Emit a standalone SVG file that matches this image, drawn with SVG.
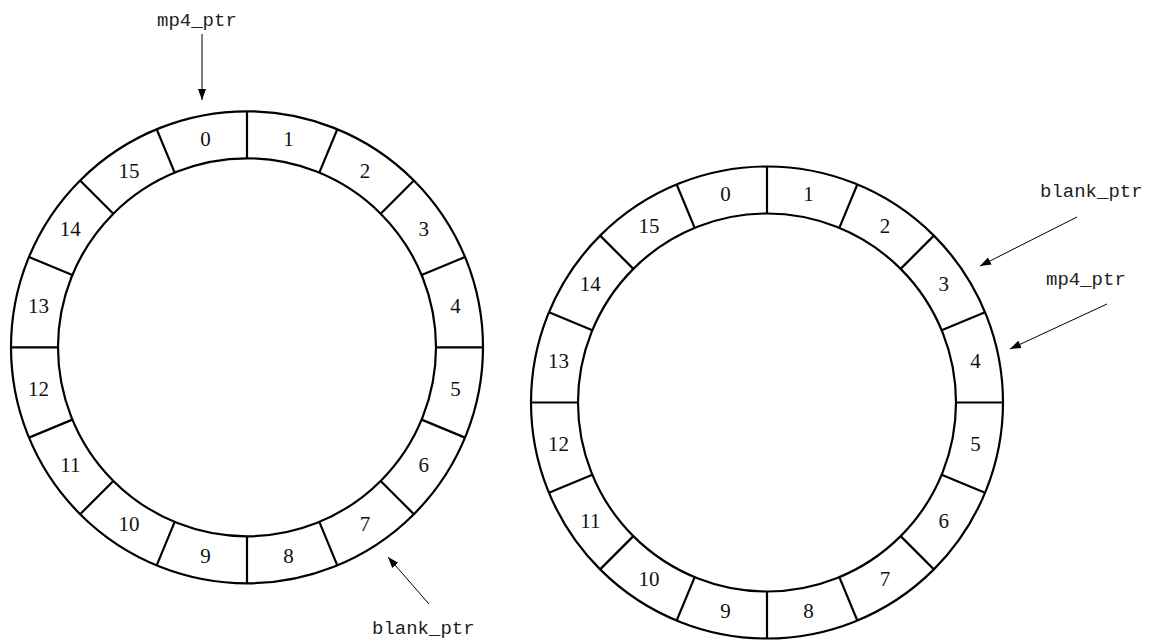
<svg xmlns="http://www.w3.org/2000/svg" xmlns:xlink="http://www.w3.org/1999/xlink" width="1157" height="642" viewBox="0 0 1157 642">
<style>
.ring{fill:none;stroke:#000;stroke-width:2.2}
.div{stroke:#000;stroke-width:2.2}
.lbl{font-family:"Liberation Serif","Times New Roman",serif;font-size:21px;fill:#111;text-anchor:middle}
.ptr{font-family:"Liberation Mono","Courier New",monospace;font-size:19px;fill:#222}
.arr{stroke:#000;stroke-width:1;fill:none;marker-end:url(#ah)}
</style>
<defs>
<marker id="ah" markerUnits="userSpaceOnUse" markerWidth="12" markerHeight="10" refX="11" refY="4" orient="auto">
<path d="M0,0 L11,4 L0,8 Z" fill="#000"/>
</marker>
<line id="d" class="div" x1="0" y1="-189" x2="0" y2="-236"/>
<g id="ringshape">
<circle class="ring" r="236"/>
<circle class="ring" r="189"/>
<use xlink:href="#d"/>
<use xlink:href="#d" transform="rotate(22.5)"/>
<use xlink:href="#d" transform="rotate(45)"/>
<use xlink:href="#d" transform="rotate(67.5)"/>
<use xlink:href="#d" transform="rotate(90)"/>
<use xlink:href="#d" transform="rotate(112.5)"/>
<use xlink:href="#d" transform="rotate(135)"/>
<use xlink:href="#d" transform="rotate(157.5)"/>
<use xlink:href="#d" transform="rotate(180)"/>
<use xlink:href="#d" transform="rotate(202.5)"/>
<use xlink:href="#d" transform="rotate(225)"/>
<use xlink:href="#d" transform="rotate(247.5)"/>
<use xlink:href="#d" transform="rotate(270)"/>
<use xlink:href="#d" transform="rotate(292.5)"/>
<use xlink:href="#d" transform="rotate(315)"/>
<use xlink:href="#d" transform="rotate(337.5)"/>
</g>
<g id="labels">
<text class="lbl" x="-41.5" y="-201.4">0</text>
<text class="lbl" x="41.5" y="-201.4">1</text>
<text class="lbl" x="118.1" y="-169.7">2</text>
<text class="lbl" x="176.7" y="-111.1">3</text>
<text class="lbl" x="208.4" y="-34.5">4</text>
<text class="lbl" x="208.4" y="48.5">5</text>
<text class="lbl" x="176.7" y="125.1">6</text>
<text class="lbl" x="118.1" y="183.7">7</text>
<text class="lbl" x="41.5" y="215.4">8</text>
<text class="lbl" x="-41.5" y="215.4">9</text>
<text class="lbl" x="-118.1" y="183.7">10</text>
<text class="lbl" x="-176.7" y="125.1">11</text>
<text class="lbl" x="-208.4" y="48.5">12</text>
<text class="lbl" x="-208.4" y="-34.5">13</text>
<text class="lbl" x="-176.7" y="-111.1">14</text>
<text class="lbl" x="-118.1" y="-169.7">15</text>
</g>
</defs>
<g id="ring-left" transform="translate(247,347.3)">
<use xlink:href="#ringshape"/>
<use xlink:href="#labels"/>
</g>
<g id="ring-right" transform="translate(767,402.5)">
<use xlink:href="#ringshape"/>
<use xlink:href="#labels"/>
</g>
<g id="pointer-labels">
<text class="ptr" x="157" y="26">mp4_ptr</text>
<text class="ptr" x="372" y="634">blank_ptr</text>
<text class="ptr" x="1040" y="197">blank_ptr</text>
<text class="ptr" x="1046" y="285">mp4_ptr</text>
</g>
<g id="connectors">
<line class="arr" x1="202" y1="34" x2="202" y2="100"/>
<line class="arr" x1="429" y1="604" x2="388" y2="557"/>
<line class="arr" x1="1077" y1="217" x2="980" y2="266"/>
<line class="arr" x1="1107" y1="304" x2="1010" y2="349"/>
</g>
</svg>
